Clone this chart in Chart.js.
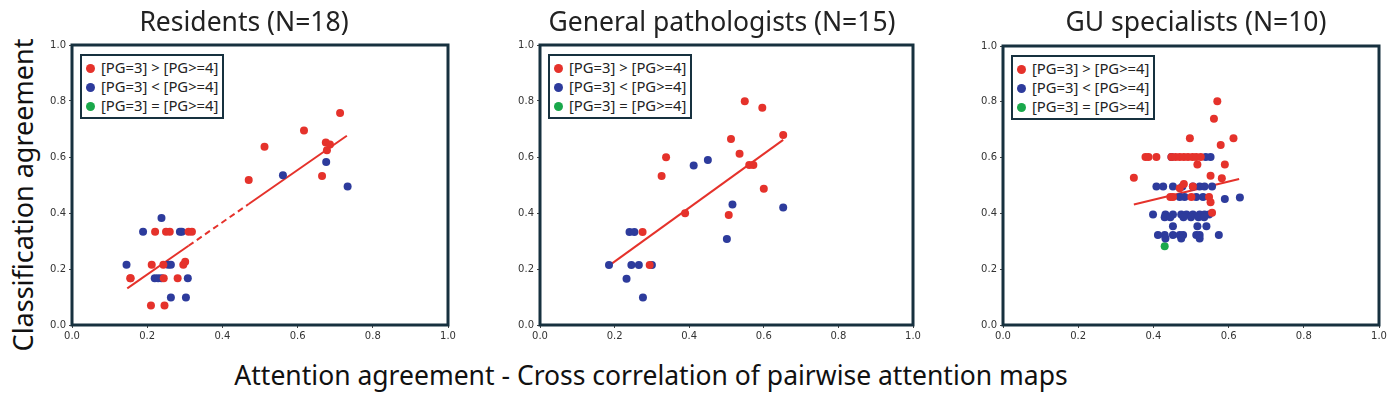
<!DOCTYPE html>
<html>
<head>
<meta charset="utf-8">
<script src="https://cdn.jsdelivr.net/npm/chart.js@4.4.1/dist/chart.umd.min.js"></script>
<style>
  body { margin: 0; background: #fff; font-family: "Noto Sans", sans-serif; }
  #wrap { position: relative; width: 1390px; height: 395px; overflow: hidden; }
  canvas { position: absolute; top: 0; }
  .title { position: absolute; top: 21px; font-size: 26.5px; line-height: 30px; color: #222; text-align: center; white-space: nowrap; }
  .ylab { position: absolute; left: 22px; top: 195px; font-size: 27px; color: #111; white-space: nowrap;
          transform: translate(-50%, -50%) rotate(-90deg); }
  .xlab { position: absolute; left: 651px; top: 375px; font-size: 26.5px; color: #111; white-space: nowrap;
          transform: translate(-50%, -50%); }
  .legend { position: absolute; border: 2px solid #17313f; background: #fff; padding: 2px 4px 2px 4px; font-size: 14.8px; color: #222; }
  .legend div { height: 19px; line-height: 19px; white-space: nowrap; }
  .legend span { display: inline-block; width: 9px; height: 9px; border-radius: 50%; margin-right: 6px; vertical-align: 0px; }
</style>
</head>
<body>
<div id="wrap">
  <div class="ylab">Classification agreement</div>
  <div class="xlab">Attention agreement - Cross correlation of pairwise attention maps</div>
</div>
<script>
// legend labels shared by the three panels
const groupLabels = ['[PG=3] > [PG>=4]', '[PG=3] < [PG>=4]', '[PG=3] = [PG>=4]'];
const groupColors = ['#e5322b', '#2d3b9c', '#19a84b'];
const panelTitles = ['Residents (N=18)', 'General pathologists (N=15)', 'GU specialists (N=10)'];
const xTicks = [0, 0.2, 0.4, 0.6, 0.8, 1.0];

// Residents
const resRedX = [0.155, 0.212, 0.221, 0.250, 0.260, 0.310, 0.319, 0.243, 0.296, 0.301, 0.156, 0.244, 0.281, 0.210, 0.246,
                 0.470, 0.512, 0.617, 0.713, 0.675, 0.686, 0.678, 0.665];
const resRedY = [0.167, 0.215, 0.333, 0.333, 0.333, 0.333, 0.333, 0.215, 0.215, 0.226, 0.167, 0.167, 0.167, 0.070, 0.070,
                 0.518, 0.637, 0.695, 0.757, 0.652, 0.645, 0.624, 0.532];
const resBlueX = [0.238, 0.189, 0.287, 0.292, 0.145, 0.256, 0.263, 0.220, 0.229, 0.238, 0.308, 0.263, 0.303, 0.561, 0.676, 0.733];
const resBlueY = [0.382, 0.333, 0.333, 0.333, 0.215, 0.215, 0.215, 0.167, 0.167, 0.167, 0.167, 0.098, 0.098, 0.535, 0.582, 0.495];
const resFitX = [0.147, 0.310, 0.470, 0.731];
const resFitY = [0.131, 0.283, 0.432, 0.676];

// General pathologists
const genRedX = [0.549, 0.596, 0.652, 0.512, 0.535, 0.561, 0.572, 0.338, 0.326, 0.600, 0.506, 0.389, 0.275, 0.294];
const genRedY = [0.799, 0.776, 0.679, 0.664, 0.612, 0.571, 0.571, 0.599, 0.532, 0.487, 0.393, 0.399, 0.332, 0.214];
const genBlueX = [0.412, 0.450, 0.516, 0.652, 0.501, 0.240, 0.253, 0.185, 0.245, 0.265, 0.300, 0.232, 0.276];
const genBlueY = [0.570, 0.589, 0.430, 0.420, 0.307, 0.332, 0.332, 0.214, 0.214, 0.214, 0.214, 0.165, 0.098];
const genFitX = [0.185, 0.652];
const genFitY = [0.212, 0.661];

// GU specialists
const guRedX = [0.570, 0.561, 0.497, 0.613, 0.579, 0.379, 0.387, 0.408, 0.448, 0.459, 0.470, 0.481, 0.492, 0.504, 0.514, 0.526,
                0.517, 0.590, 0.348, 0.552, 0.582, 0.470, 0.481, 0.505, 0.445, 0.452, 0.501, 0.548, 0.552, 0.556];
const guRedY = [0.802, 0.739, 0.669, 0.669, 0.645, 0.602, 0.602, 0.602, 0.602, 0.602, 0.602, 0.602, 0.602, 0.602, 0.602, 0.602,
                0.575, 0.575, 0.528, 0.535, 0.526, 0.490, 0.505, 0.496, 0.459, 0.459, 0.459, 0.459, 0.440, 0.402];
const guBlueX = [0.448, 0.539, 0.552,
                 0.408, 0.426, 0.452, 0.477, 0.505, 0.523, 0.536, 0.556,
                 0.470, 0.483, 0.514, 0.532, 0.590, 0.630,
                 0.399, 0.432, 0.452, 0.474, 0.488, 0.505, 0.523, 0.536, 0.548,
                 0.430, 0.445, 0.480, 0.500, 0.520, 0.535,
                 0.452, 0.517, 0.541,
                 0.412, 0.430, 0.452, 0.470, 0.479, 0.514, 0.523, 0.574,
                 0.432, 0.474, 0.523];
const guBlueY = [0.602, 0.602, 0.602,
                 0.496, 0.496, 0.496, 0.496, 0.496, 0.496, 0.496, 0.496,
                 0.459, 0.459, 0.459, 0.459, 0.452, 0.457,
                 0.396, 0.396, 0.396, 0.396, 0.396, 0.396, 0.396, 0.396, 0.396,
                 0.386, 0.386, 0.386, 0.386, 0.386, 0.386,
                 0.354, 0.354, 0.354,
                 0.323, 0.323, 0.323, 0.323, 0.323, 0.323, 0.323, 0.323,
                 0.310, 0.310, 0.310];
const guGreenX = [0.430];
const guGreenY = [0.282];
const guFitX = [0.348, 0.628];
const guFitY = [0.432, 0.523];

const pts = (xs, ys) => xs.map((x, i) => ({ x: x, y: ys[i] }));

const panels = [
  { left: 72, right: 448, top: 45, titleX: 244, red: pts(resRedX, resRedY), blue: pts(resBlueX, resBlueY), green: [],
    fit: pts(resFitX, resFitY), dashMid: true },
  { left: 540, right: 913, top: 45, titleX: 722, red: pts(genRedX, genRedY), blue: pts(genBlueX, genBlueY), green: [],
    fit: pts(genFitX, genFitY), dashMid: false },
  { left: 1003, right: 1379, top: 46, titleX: 1196, red: pts(guRedX, guRedY), blue: pts(guBlueX, guBlueY), green: pts(guGreenX, guGreenY),
    fit: pts(guFitX, guFitY), dashMid: false }
];

const frame = {
  id: 'frame',
  afterDatasetsDraw(chart) {
    const a = chart.chartArea, c = chart.ctx;
    c.save();
    c.strokeStyle = '#17313f';
    c.lineWidth = 3;
    c.strokeRect(a.left, a.top, a.right - a.left, a.bottom - a.top);
    c.restore();
  }
};

const wrap = document.getElementById('wrap');
const AXW = 40, AXH = 20, BOTTOM = 325, PADR = 10;

panels.forEach((p, k) => {
  const cv = document.createElement('canvas');
  const w = p.right - p.left + AXW + PADR, h = BOTTOM + AXH;
  cv.width = w; cv.height = h;
  cv.style.left = (p.left - AXW) + 'px';
  cv.style.width = w + 'px'; cv.style.height = h + 'px';
  wrap.appendChild(cv);

  const t = document.createElement('div');
  t.className = 'title';
  t.textContent = panelTitles[k];
  t.style.left = p.titleX + 'px';
  t.style.transform = 'translate(-50%, -50%)';
  wrap.appendChild(t);

  const lg = document.createElement('div');
  lg.className = 'legend';
  lg.style.left = (p.left + 8) + 'px';
  lg.style.top = (p.top + 9) + 'px';
  groupLabels.forEach((lab, i) => {
    const row = document.createElement('div');
    row.innerHTML = '<span style="background:' + groupColors[i] + '"></span>' + lab;
    lg.appendChild(row);
  });
  wrap.appendChild(lg);

  const dot = (label, data, color) => ({
    type: 'scatter', label: label, data: data, backgroundColor: color, borderColor: color,
    pointRadius: 4, pointBorderWidth: 0, pointHoverRadius: 4
  });

  new Chart(cv, {
    type: 'scatter',
    data: {
      datasets: [
        dot(groupLabels[0], p.red, groupColors[0]),
        dot(groupLabels[1], p.blue, groupColors[1]),
        dot(groupLabels[2], p.green, groupColors[2]),
        {
          type: 'line', label: 'fit', data: p.fit, borderColor: '#e5322b', borderWidth: 2,
          pointRadius: 0, fill: false, showLine: true,
          segment: { borderDash: ctx => (p.dashMid && ctx.p0DataIndex === 1) ? [6, 4] : undefined }
        }
      ]
    },
    options: {
      responsive: false,
      animation: false,
      layout: { padding: { top: p.top, right: PADR, left: 0, bottom: 0 } },
      plugins: { legend: { display: false }, tooltip: { enabled: false } },
      scales: {
        x: {
          type: 'linear', min: 0, max: 1,
          afterBuildTicks: s => { s.ticks = xTicks.map(v => ({ value: v })); },
          afterFit: s => { s.height = AXH; },
          ticks: { callback: v => Number(v).toFixed(1), font: { size: 10, family: 'DejaVu Sans' }, color: '#333', padding: 2, maxRotation: 0 },
          grid: { drawOnChartArea: false, drawTicks: true, tickLength: 3, color: '#444' },
          border: { display: false }
        },
        y: {
          type: 'linear', min: 0, max: 1,
          afterBuildTicks: s => { s.ticks = xTicks.map(v => ({ value: v })); },
          afterFit: s => { s.width = AXW; },
          ticks: { callback: v => Number(v).toFixed(1), font: { size: 10, family: 'DejaVu Sans' }, color: '#333', padding: 3 },
          grid: { drawOnChartArea: false, drawTicks: true, tickLength: 3, color: '#444' },
          border: { display: false }
        }
      }
    },
    plugins: [frame]
  });
});
</script>
</body>
</html>
